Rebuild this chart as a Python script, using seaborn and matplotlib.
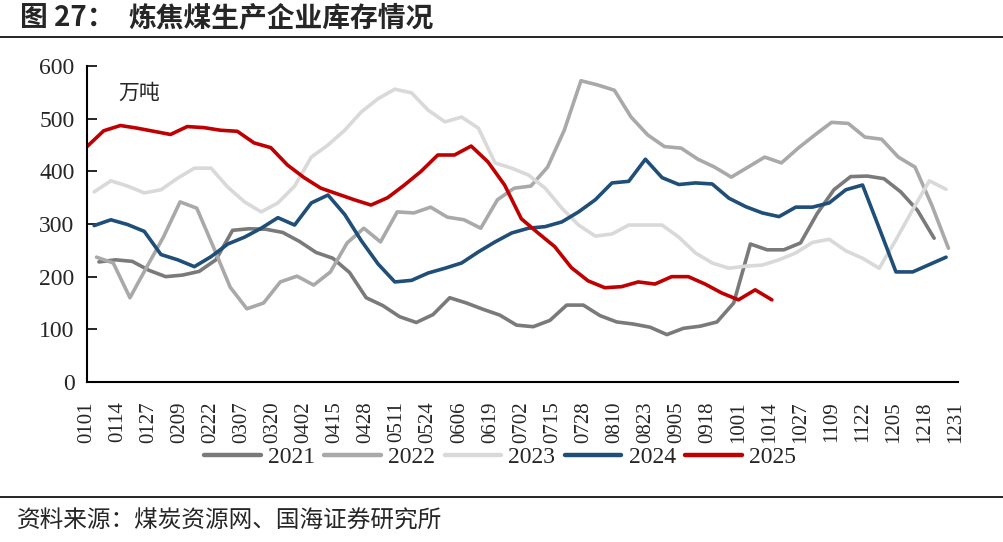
import pandas as pd
import matplotlib
matplotlib.use("Agg")
import matplotlib.pyplot as plt
from matplotlib.lines import Line2D
from matplotlib.ticker import FixedLocator
import seaborn as sns

# 每周数据，单位：万吨
v2021 = [228, 232, 229, 212, 200, 203, 210, 232, 288, 291, 290, 284, 267, 246, 235, 208, 160,
         145, 124, 113, 128, 160, 150, 138, 127, 108, 105, 117, 146, 146, 126, 114, 110, 104,
         90, 102, 106, 114, 150, 262, 251, 251, 264, 320, 365, 390, 391, 386, 361, 326, 273]
v2022 = [237, 226, 160, 218, 275, 342, 330, 256, 180, 139, 150, 190, 201, 184, 209, 264, 292,
         266, 323, 321, 332, 313, 308, 292, 346, 368, 372, 408, 478, 572, 564, 554, 503, 469,
         447, 444, 423, 408, 389, 408, 427, 416, 444, 469, 493, 491, 465, 461, 427, 408, 336, 254]
v2023 = [361, 382, 372, 359, 365, 387, 406, 406, 370, 342, 323, 340, 372, 427, 450, 478, 513,
         538, 556, 549, 516, 494, 503, 482, 416, 406, 393, 368, 330, 298, 277, 281, 298, 298,
         298, 275, 245, 226, 216, 220, 222, 232, 245, 265, 271, 249, 235, 216, 270, 327, 382, 366]
v2024 = [297, 308, 299, 286, 242, 232, 219, 238, 262, 275, 292, 312, 298, 340, 355, 318, 268,
         224, 190, 193, 207, 216, 226, 247, 266, 283, 292, 295, 304, 323, 346, 378, 381, 423,
         388, 375, 378, 376, 349, 333, 321, 314, 332, 332, 340, 365, 374, 292, 209, 209, 223, 237]
v2025 = [447, 477, 487, 482, 476, 470, 485, 483, 478, 476, 454, 445, 412, 388, 368, 357, 346,
         336, 350, 374, 400, 431, 431, 448, 418, 374, 310, 283, 257, 217, 192, 179, 181, 190,
         186, 200, 200, 186, 169, 156, 175, 156]

years = ["2021", "2022", "2023", "2024", "2025"]
series = [v2021, v2022, v2023, v2024, v2025]
start_day = [5, 4, 3, 3, 0]
colors = ["#7a7a7a", "#a9a9a9", "#d9d9d9", "#1f4e79", "#c00000"]

tick_labels = ["0101", "0114", "0127", "0209", "0222", "0307", "0320", "0402", "0415", "0428",
               "0511", "0524", "0606", "0619", "0702", "0715", "0728", "0810", "0823", "0905",
               "0918", "1001", "1014", "1027", "1109", "1122", "1205", "1218", "1231"]

rows = []
for y, vals, s in zip(years, series, start_day):
    for i, v in enumerate(vals):
        rows.append({"day": s + 7 * i, "value": v, "year": y})
df = pd.DataFrame(rows)

sns.set_style("white")
plt.rcParams["font.family"] = ["Liberation Serif", "Noto Sans CJK SC"]
cjk = ["Noto Sans CJK SC", "DejaVu Sans"]

fig = plt.figure(figsize=(10.04, 5.42), dpi=100)
ax = fig.add_axes([87 / 1004, 1 - 382 / 542, 871 / 1004, 316 / 542])

sns.lineplot(data=df, x="day", y="value", hue="year", palette=dict(zip(years, colors)),
             linewidth=2.6, estimator=None, ax=ax)

ax.set_xlim(0, 365)
ax.set_ylim(0, 600)
ax.set_yticks(range(0, 601, 100))
ax.set_xticks([13 * i for i in range(len(tick_labels))])
ax.set_xticklabels(tick_labels, rotation=90, fontsize=15)
ax.xaxis.set_minor_locator(FixedLocator(range(0, 361, 20)))
ax.tick_params(axis="x", which="major", length=0, pad=14)
ax.tick_params(axis="x", which="minor", direction="in", length=6.5, width=1.4, color="black")
ax.tick_params(axis="y", direction="in", length=7, width=1.4, labelsize=17, pad=9, left=True)
ax.set_xlabel("")
ax.set_ylabel("")
sns.despine(ax=ax)
for sp in ["left", "bottom"]:
    ax.spines[sp].set_color("black")
    ax.spines[sp].set_linewidth(1.5)

ax.text(0.036, 0.915, "万吨", transform=ax.transAxes, fontsize=15, family=cjk, va="center")

handles, labels = ax.get_legend_handles_labels()
ax.legend_.remove()
for h in handles:
    h.set_linewidth(3.2)
fig.legend(handles, labels, loc="center", bbox_to_anchor=(0.498, 1 - 457 / 542), ncol=5,
           frameon=False, fontsize=17, handlelength=2.4, handletextpad=0.3, columnspacing=0.4)

fig.text(20 / 1004, 1 - 18 / 542, "图 27：", fontsize=20, fontweight="bold", family=cjk, va="center")
fig.text(128 / 1004, 1 - 18 / 542, "炼焦煤生产企业库存情况", fontsize=20, fontweight="bold",
         family=cjk, va="center")
fig.add_artist(Line2D([0, 1], [1 - 37 / 542] * 2, transform=fig.transFigure, color="black", lw=1.2))
fig.add_artist(Line2D([0, 1], [1 - 497 / 542] * 2, transform=fig.transFigure, color="black", lw=1.2))
fig.text(17 / 1004, 1 - 521 / 542, "资料来源：煤炭资源网、国海证券研究所", fontsize=17, family=cjk,
         va="center")

fig.savefig("out.png", dpi=100)
